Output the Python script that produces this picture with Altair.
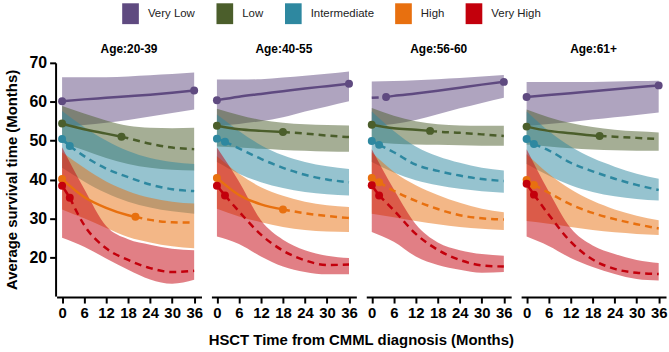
import altair as alt
import pandas as pd

# Months after CMML diagnosis at which the curves are sampled
MONTHS = [0, 6, 12, 18, 24, 30, 36]

GROUPS = ["Very Low", "Low", "Intermediate", "High", "Very High"]
COLORS = ["#5f4a80", "#4b5e2b", "#2e88a0", "#e8700f", "#c3000c"]
PANELS = ["Age:20-39", "Age:40-55", "Age:56-60", "Age:61+"]

# Rows follow GROUPS order: estimate, lower bound, upper bound at MONTHS,
# and the two highlighted points (month, value) that bound the solid segment.
EST_20_39 = [
    [60.1, 60.6, 61.0, 61.4, 61.8, 62.3, 62.9],
    [54.4, 52.9, 51.8, 50.6, 49.2, 48.2, 47.8],
    [50.4, 46.0, 42.8, 40.6, 38.7, 37.5, 37.0],
    [40.1, 35.5, 32.7, 30.8, 29.6, 29.0, 28.9],
    [38.4, 28.3, 22.3, 19.3, 17.2, 16.2, 16.5],
]
LO_20_39 = [
    [53.5, 54.0, 54.6, 55.3, 56.2, 57.1, 58.0],
    [49.5, 47.5, 45.5, 44.0, 43.0, 42.5, 42.3],
    [43.0, 39.5, 36.5, 34.3, 32.8, 31.8, 31.2],
    [32.3, 30.0, 27.5, 25.2, 23.8, 22.8, 22.3],
    [25.0, 22.7, 19.7, 16.8, 14.3, 13.2, 14.2],
]
HI_20_39 = [
    [66.3, 66.3, 66.3, 66.5, 66.8, 67.1, 67.5],
    [58.9, 57.0, 55.2, 53.8, 53.3, 53.2, 53.3],
    [57.6, 53.5, 50.0, 47.3, 45.5, 44.5, 44.0],
    [47.0, 43.0, 39.5, 37.0, 35.3, 34.3, 33.8],
    [48.3, 37.6, 28.0, 24.6, 23.2, 22.2, 21.8],
]
MARKS_20_39 = [
    [(0, 60.1), (36, 62.9)],
    [(0, 54.4), (16.2, 51.0)],
    [(0, 50.4), (2.1, 48.6)],
    [(0, 40.1), (20.0, 30.4)],
    [(0, 38.4), (2.1, 35.3)],
]

EST_40_55 = [
    [60.4, 61.3, 62.0, 62.7, 63.4, 64.0, 64.6],
    [53.8, 52.9, 52.5, 52.2, 51.8, 51.3, 50.9],
    [50.5, 48.0, 45.3, 43.0, 41.2, 40.0, 39.3],
    [40.4, 36.0, 33.6, 32.3, 31.3, 30.6, 30.1],
    [38.4, 31.8, 25.8, 21.7, 19.2, 18.0, 18.1],
]
LO_40_55 = [
    [53.8, 54.3, 55.0, 56.0, 57.5, 58.8, 60.1],
    [48.5, 48.2, 47.9, 47.6, 47.4, 47.2, 47.1],
    [44.5, 41.5, 39.3, 37.8, 36.8, 36.2, 35.9],
    [32.5, 30.5, 29.0, 27.8, 27.0, 26.6, 26.5],
    [25.3, 23.4, 20.2, 17.6, 16.2, 15.6, 15.6],
]
HI_40_55 = [
    [65.7, 65.7, 65.8, 66.2, 66.7, 67.2, 67.8],
    [58.2, 56.6, 55.3, 54.6, 54.2, 54.0, 53.9],
    [56.7, 52.5, 48.8, 46.2, 44.5, 43.4, 42.7],
    [46.0, 41.5, 38.0, 35.8, 34.3, 33.4, 32.9],
    [48.2, 39.5, 29.5, 24.5, 21.8, 20.4, 19.8],
]
MARKS_40_55 = [
    [(0, 60.4), (36, 64.6)],
    [(0, 53.8), (18, 52.2)],
    [(0, 50.5), (2.2, 49.7)],
    [(0, 40.4), (18, 32.3)],
    [(0, 38.4), (2.2, 35.9)],
]

EST_56_60 = [
    [61.0, 61.5, 62.1, 62.8, 63.6, 64.4, 65.1],
    [54.1, 53.2, 52.8, 52.3, 52.0, 51.6, 51.2],
    [49.9, 47.0, 43.8, 42.2, 41.0, 40.1, 39.6],
    [40.4, 37.1, 34.5, 32.4, 30.8, 30.0, 29.7],
    [38.5, 32.1, 26.0, 21.9, 19.3, 17.9, 17.6],
]
LO_56_60 = [
    [53.8, 54.3, 55.3, 56.8, 58.3, 59.7, 61.0],
    [49.5, 49.2, 49.0, 48.9, 48.8, 48.7, 48.7],
    [44.5, 41.8, 39.8, 38.5, 37.6, 37.0, 36.6],
    [31.2, 30.3, 29.3, 28.5, 27.8, 27.3, 27.0],
    [26.5, 24.0, 20.2, 18.0, 16.8, 16.0, 16.2],
]
HI_56_60 = [
    [65.2, 65.3, 65.5, 65.8, 66.1, 66.5, 66.9],
    [58.4, 56.4, 55.0, 54.2, 53.9, 53.8, 53.8],
    [57.5, 52.5, 48.5, 46.0, 44.3, 43.0, 42.3],
    [47.0, 42.0, 38.5, 36.0, 34.0, 32.5, 31.6],
    [47.8, 37.5, 28.5, 23.8, 21.8, 20.8, 20.4],
]
MARKS_56_60 = [
    [(3.9, 61.2), (36, 65.1)],
    [(0, 54.1), (15.9, 52.5)],
    [(0, 49.9), (2.0, 48.9)],
    [(0, 40.4), (2.0, 39.3)],
    [(0, 38.5), (2.0, 35.9)],
]

EST_61 = [
    [61.2, 61.7, 62.2, 62.7, 63.2, 63.7, 64.2],
    [53.6, 52.5, 51.9, 51.3, 51.0, 50.7, 50.4],
    [50.4, 47.5, 44.3, 42.1, 40.2, 38.6, 37.3],
    [39.9, 36.6, 33.6, 31.4, 29.8, 28.5, 27.4],
    [38.9, 31.0, 24.0, 19.4, 17.0, 16.0, 15.7],
]
LO_61 = [
    [53.8, 54.3, 54.8, 55.4, 56.0, 56.6, 57.2],
    [49.0, 48.5, 48.0, 47.7, 47.5, 47.4, 47.4],
    [44.0, 41.0, 38.5, 36.8, 35.7, 35.0, 34.6],
    [29.3, 28.6, 27.8, 27.0, 26.4, 26.0, 25.7],
    [25.3, 22.9, 19.8, 17.5, 15.7, 14.4, 14.0],
]
HI_61 = [
    [65.1, 65.1, 65.1, 65.1, 65.2, 65.3, 65.4],
    [58.0, 56.0, 54.5, 53.5, 52.8, 52.4, 52.1],
    [57.5, 52.5, 48.5, 45.5, 43.3, 41.5, 40.2],
    [46.5, 41.5, 37.5, 34.5, 32.3, 30.7, 29.5],
    [47.8, 37.0, 27.5, 23.0, 20.8, 19.3, 18.5],
]
MARKS_61 = [
    [(0, 61.2), (36, 64.2)],
    [(0, 53.6), (19.9, 51.2)],
    [(0, 50.4), (2.0, 49.1)],
    [(0, 39.9), (2.0, 38.6)],
    [(0, 38.9), (2.0, 36.1)],
]

SERIES = {
    "Age:20-39": (EST_20_39, LO_20_39, HI_20_39, MARKS_20_39),
    "Age:40-55": (EST_40_55, LO_40_55, HI_40_55, MARKS_40_55),
    "Age:56-60": (EST_56_60, LO_56_60, HI_56_60, MARKS_56_60),
    "Age:61+": (EST_61, LO_61, HI_61, MARKS_61),
}

rows = []
for panel, (est, lo, hi, marks) in SERIES.items():
    for g, name in enumerate(GROUPS):
        for m, l, h in zip(MONTHS, lo[g], hi[g]):
            rows.append(dict(panel=panel, group=name, kind="band", seg=name,
                             style="band", month=m, lo=l, hi=h, value=l))
        (m_a, v_a), (m_b, v_b) = marks[g]
        pts = dict(zip(MONTHS, est[g]))
        pts[m_a] = v_a
        pts[m_b] = v_b
        for m in sorted(pts):
            v = pts[m]
            base = dict(panel=panel, group=name, kind="line", month=m, value=v, lo=v, hi=v)
            if m <= m_a:
                rows.append({**base, "seg": name + "|pre", "style": "dashed"})
            if m_a <= m <= m_b:
                rows.append({**base, "seg": name + "|obs", "style": "solid"})
            if m >= m_b:
                rows.append({**base, "seg": name + "|post", "style": "dashed"})
        for m, v in marks[g]:
            rows.append(dict(panel=panel, group=name, kind="mark", seg=name,
                             style="mark", month=m, value=v, lo=v, hi=v))

df = pd.DataFrame(rows)

FONT = "Liberation Sans"

x_enc = alt.X(
    "month:Q",
    scale=alt.Scale(domain=[-1.5, 38], nice=False, zero=False),
    axis=alt.Axis(
        values=[0, 6, 12, 18, 24, 30, 36],
        title=None,
        labelFontSize=15,
        labelFlush=False,
        labelOverlap=False,
        labelPadding=3,
    ),
)


def y_enc(field):
    return alt.Y(
        field,
        scale=alt.Scale(domain=[10, 70], nice=False, zero=False),
        axis=alt.Axis(
            values=[20, 30, 40, 50, 60, 70],
            title="Average survival time (Months)",
            labelFontSize=16,
            labelPadding=3,
            titlePadding=10,
        ),
    )


color_scale = alt.Scale(domain=GROUPS, range=COLORS)

bands = (
    alt.Chart()
    .transform_filter(alt.datum.kind == "band")
    .mark_area(fillOpacity=0.5, interpolate="monotone")
    .encode(
        x=x_enc,
        y=y_enc("lo:Q"),
        y2="hi:Q",
        color=alt.Color(
            "group:N",
            scale=color_scale,
            legend=alt.Legend(
                title=None,
                orient="none",
                direction="horizontal",
                legendX=64,
                legendY=-60,
                symbolType="M-0.8,-1H0.8V1H-0.8Z",
                symbolSize=441,
                symbolOpacity=1,
                symbolStrokeWidth=0,
                labelFont=FONT,
                labelFontSize=11.5,
                labelColor="#222222",
                labelOffset=7,
                columnPadding=19,
            ),
        ),
    )
)

solid = (
    alt.Chart()
    .transform_filter((alt.datum.kind == "line") & (alt.datum.style == "solid"))
    .mark_line(strokeWidth=2.5, interpolate="monotone")
    .encode(
        x=x_enc,
        y=y_enc("value:Q"),
        color=alt.Color("group:N", scale=color_scale, legend=None),
        detail="seg:N",
    )
)

dashed = (
    alt.Chart()
    .transform_filter((alt.datum.kind == "line") & (alt.datum.style == "dashed"))
    .mark_line(strokeWidth=2.5, strokeDash=[7, 5], interpolate="monotone")
    .encode(
        x=x_enc,
        y=y_enc("value:Q"),
        color=alt.Color("group:N", scale=color_scale, legend=None),
        detail="seg:N",
    )
)

points = (
    alt.Chart()
    .transform_filter(alt.datum.kind == "mark")
    .mark_circle(size=64, opacity=1)
    .encode(
        x=x_enc,
        y=y_enc("value:Q"),
        color=alt.Color("group:N", scale=color_scale, legend=None),
    )
)

chart = (
    alt.layer(bands, solid, dashed, points, data=df)
    .properties(width=146, height=235)
    .facet(
        column=alt.Column(
            "panel:N",
            sort=PANELS,
            title="HSCT Time from CMML diagnosis (Months)",
            header=alt.Header(
                labelOrient="top",
                labelFont=FONT,
                labelFontSize=12,
                labelFontWeight="bold",
                labelColor="black",
                labelPadding=6,
                titleOrient="bottom",
                titleFont=FONT,
                titleFontSize=15,
                titleFontWeight="bold",
                titleColor="black",
                titlePadding=2,
            ),
        ),
        spacing=8,
    )
    .properties(padding={"left": 4, "top": 2, "right": 2, "bottom": 2})
    .configure_view(stroke="transparent")
    .configure_axis(
        grid=False,
        domainColor="black",
        domainWidth=2,
        tickColor="black",
        tickWidth=2,
        tickSize=6,
        labelFont=FONT,
        labelFontWeight="bold",
        labelColor="black",
        titleFont=FONT,
        titleFontSize=15,
        titleFontWeight="bold",
        titleColor="black",
    )
)

chart.save("out.html", embed_options={"renderer": "svg", "actions": False})
